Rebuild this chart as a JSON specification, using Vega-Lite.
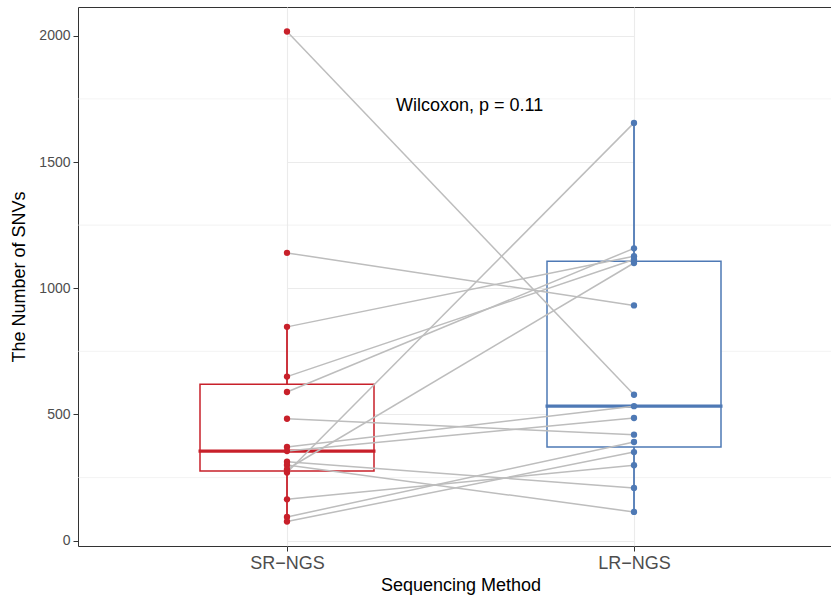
{
  "$schema": "https://vega.github.io/schema/vega-lite/v6.json",
  "width": 753,
  "height": 539,
  "autosize": "none",
  "padding": {"left": 78, "top": 7, "right": 0, "bottom": 51},
  "background": "white",
  "config": {
    "view": {"stroke": "#333333", "strokeWidth": 1},
    "font": "Liberation Sans",
    "axis": {
      "labelFont": "Liberation Sans",
      "titleFont": "Liberation Sans",
      "labelColor": "#4D4D4D",
      "titleColor": "#000000",
      "titleFontWeight": "normal",
      "tickColor": "#333333",
      "tickSize": 5,
      "domain": false,
      "gridColor": "#EBEBEB",
      "gridWidth": 1.1
    }
  },
  "datasets": {
    "pairs": [
      {"pair": 1, "method": "SR−NGS", "snvs": 2017},
      {"pair": 1, "method": "LR−NGS", "snvs": 578},
      {"pair": 2, "method": "SR−NGS", "snvs": 1140},
      {"pair": 2, "method": "LR−NGS", "snvs": 932},
      {"pair": 3, "method": "SR−NGS", "snvs": 847},
      {"pair": 3, "method": "LR−NGS", "snvs": 1127},
      {"pair": 4, "method": "SR−NGS", "snvs": 650},
      {"pair": 4, "method": "LR−NGS", "snvs": 1114},
      {"pair": 5, "method": "SR−NGS", "snvs": 589},
      {"pair": 5, "method": "LR−NGS", "snvs": 1158},
      {"pair": 6, "method": "SR−NGS", "snvs": 483},
      {"pair": 6, "method": "LR−NGS", "snvs": 420},
      {"pair": 7, "method": "SR−NGS", "snvs": 371},
      {"pair": 7, "method": "LR−NGS", "snvs": 533},
      {"pair": 8, "method": "SR−NGS", "snvs": 355},
      {"pair": 8, "method": "LR−NGS", "snvs": 486},
      {"pair": 9, "method": "SR−NGS", "snvs": 313},
      {"pair": 9, "method": "LR−NGS", "snvs": 209},
      {"pair": 10, "method": "SR−NGS", "snvs": 300},
      {"pair": 10, "method": "LR−NGS", "snvs": 114},
      {"pair": 11, "method": "SR−NGS", "snvs": 283},
      {"pair": 11, "method": "LR−NGS", "snvs": 1100},
      {"pair": 12, "method": "SR−NGS", "snvs": 270},
      {"pair": 12, "method": "LR−NGS", "snvs": 1655},
      {"pair": 13, "method": "SR−NGS", "snvs": 164},
      {"pair": 13, "method": "LR−NGS", "snvs": 299},
      {"pair": 14, "method": "SR−NGS", "snvs": 94},
      {"pair": 14, "method": "LR−NGS", "snvs": 391},
      {"pair": 15, "method": "SR−NGS", "snvs": 76},
      {"pair": 15, "method": "LR−NGS", "snvs": 351}
    ],
    "minorGrid": [
      {"snvs": 250}, {"snvs": 750}, {"snvs": 1250}, {"snvs": 1750}
    ],
    "annotation": [
      {"label": "Wilcoxon, p = 0.11", "method": "SR−NGS", "snvs": 1720}
    ]
  },
  "encoding": {
    "x": {
      "field": "method",
      "type": "nominal",
      "sort": ["SR−NGS", "LR−NGS"],
      "scale": {"type": "point", "domain": ["SR−NGS", "LR−NGS"], "range": [209, 556], "padding": 0},
      "axis": {
        "title": "Sequencing Method",
        "titleFontSize": 18,
        "titlePadding": 4,
        "labelFontSize": 18,
        "labelPadding": 3,
        "labelAngle": 0,
        "grid": true
      }
    },
    "y": {
      "field": "snvs",
      "type": "quantitative",
      "scale": {"domain": [-21, 2114], "nice": false, "zero": false},
      "axis": {
        "title": "The Number of SNVs",
        "titleFontSize": 18,
        "titlePadding": 10,
        "labelFontSize": 14,
        "labelPadding": 3,
        "format": "d",
        "values": [0, 500, 1000, 1500, 2000],
        "grid": true
      }
    }
  },
  "layer": [
    {
      "data": {"name": "minorGrid"},
      "mark": {"type": "rule", "color": "#EBEBEB", "strokeWidth": 0.6},
      "encoding": {"x": null}
    },
    {
      "data": {"name": "pairs"},
      "mark": {
        "type": "boxplot",
        "extent": 1.5,
        "size": 174,
        "outliers": false,
        "ticks": false,
        "box": {"fill": "white", "strokeWidth": 1.5, "opacity": 1},
        "median": {"thickness": 0.2, "strokeWidth": 3, "opacity": 1},
        "rule": {"strokeWidth": 1.8, "opacity": 1}
      },
      "encoding": {
        "stroke": {
          "field": "method",
          "type": "nominal",
          "scale": {"domain": ["SR−NGS", "LR−NGS"], "range": ["#C8202A", "#4E79B5"]},
          "legend": null
        }
      }
    },
    {
      "data": {"name": "pairs"},
      "mark": {"type": "line", "color": "#BDBDBD", "strokeWidth": 1.5},
      "encoding": {"detail": {"field": "pair", "type": "nominal"}}
    },
    {
      "data": {"name": "pairs"},
      "mark": {"type": "circle", "size": 40, "opacity": 1},
      "encoding": {
        "color": {
          "field": "method",
          "type": "nominal",
          "scale": {"domain": ["SR−NGS", "LR−NGS"], "range": ["#C8202A", "#4E79B5"]},
          "legend": null
        }
      }
    },
    {
      "data": {"name": "annotation"},
      "mark": {"type": "text", "align": "left", "baseline": "middle", "fontSize": 18, "dx": 109, "color": "black", "font": "Liberation Sans"},
      "encoding": {"text": {"field": "label"}}
    }
  ]
}
